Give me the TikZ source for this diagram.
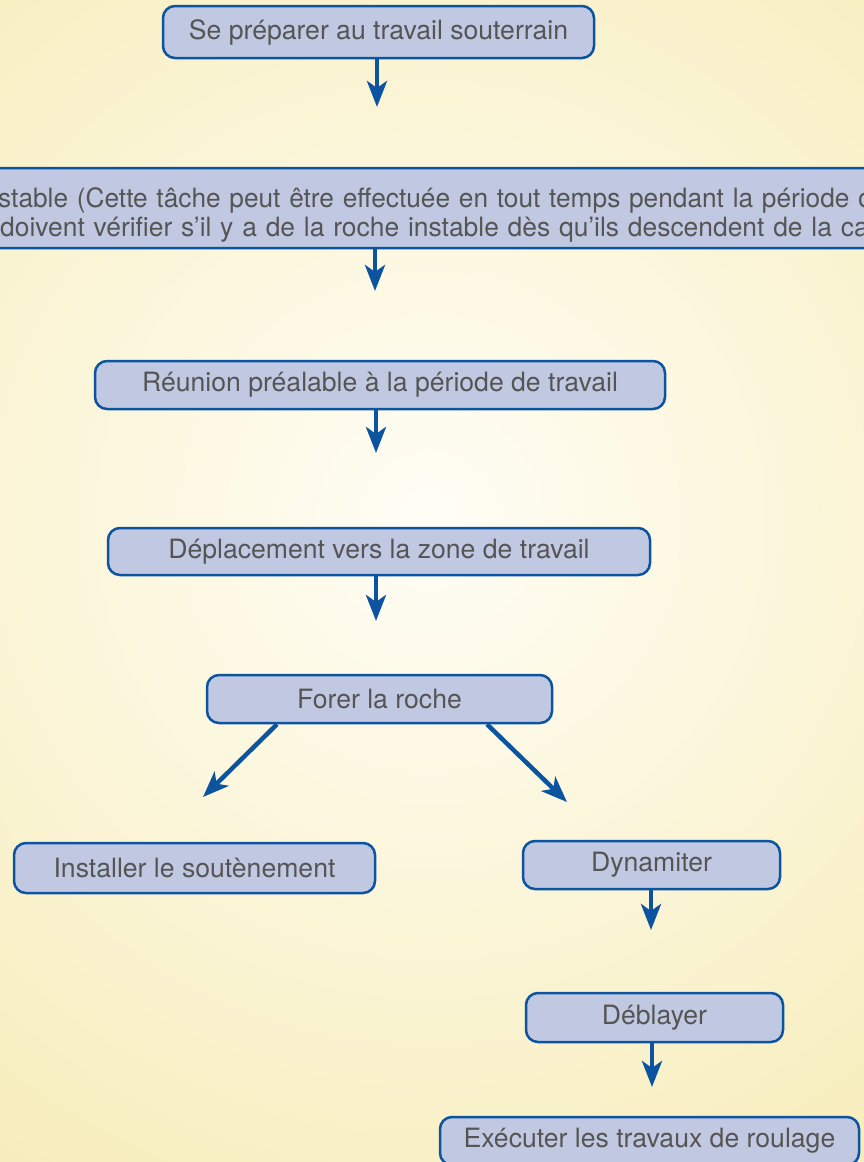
\documentclass[tikz,border=0pt]{standalone}
\usepackage{fontspec}
\setmainfont{TeX Gyre Heros}
\usetikzlibrary{arrows.meta}
\definecolor{bblue}{RGB}{12,84,160}
\definecolor{bfill}{RGB}{193,201,226}
\definecolor{tgray}{RGB}{85,85,85}
\definecolor{bgin}{RGB}{255,254,246}
\definecolor{bgout}{RGB}{245,232,170}
\begin{document}
\begin{tikzpicture}[x=1pt,y=-1pt,
  box/.style={draw=bblue, fill=bfill, line width=2.5pt, rounded corners=12pt,
    text=tgray, inner sep=0pt, font=\fontsize{26.6}{29}\selectfont},
  arr/.style={draw=bblue, line width=4.5pt,
    -{Stealth[length=26pt,width=20pt,inset=7pt]}}]
\useasboundingbox (0,0) rectangle (864,1162);
\clip (0,0) rectangle (864,1162);
\shade[inner color=bgin, outer color=bgout] (430,520) circle (1000pt);

\node[box, minimum width=431pt, minimum height=52pt] (n1) at (378.5,32) {Se préparer au travail souterrain};
\node[box, anchor=west, minimum width=920pt, minimum height=80pt, text width=920pt, align=left] (n2) at (-25,208)
  {\rule{0pt}{33pt}\hspace*{22pt}\scalebox{0.987}[1]{\mbox{stable (Cette tâche peut être effectuée en tout temps pendant la période de}}\\
   \hspace*{24pt}\scalebox{0.993}[1]{\mbox{doivent vérifier s’il y a de la roche instable dès qu’ils descendent de la cage}}};
\node[box, minimum width=570pt, minimum height=48pt] (n3) at (380,385) {Réunion préalable à la période de travail};
\node[box, minimum width=542pt, minimum height=47pt] (n4) at (379,551.5) {Déplacement vers la zone de travail};
\node[box, minimum width=345pt, minimum height=48pt] (n5) at (379.5,699) {Forer la roche};
\node[box, minimum width=361pt, minimum height=50pt] (n6) at (194.5,868) {Installer le soutènement};
\node[box, minimum width=257pt, minimum height=48pt] (n7) at (651.5,865) {Dynamiter};
\node[box, minimum width=257pt, minimum height=49pt] (n8) at (654.5,1017.5) {Déblayer};
\node[box, minimum width=419pt, minimum height=48pt] (n9) at (649.5,1141) {Exécuter les travaux de roulage};

\coordinate (t1) at (377,107);
\coordinate (t2) at (375,291);
\coordinate (t3) at (376,453);
\coordinate (t4) at (376,621);
\coordinate (t5) at (203,797);
\coordinate (t6) at (567,802);
\coordinate (t7) at (651,930);
\coordinate (t8) at (652,1087);
\coordinate (s5) at ([xshift=-102.5pt]n5.south);
\coordinate (s6) at ([xshift=107.5pt]n5.south);

\draw[arr] (n1.south -| t1) -- (t1);
\draw[arr] (n2.south -| t2) -- (t2);
\draw[arr] (n3.south -| t3) -- (t3);
\draw[arr] (n4.south -| t4) -- (t4);
\draw[arr] (s5) -- (t5);
\draw[arr] (s6) -- (t6);
\draw[arr] (n7.south -| t7) -- (t7);
\draw[arr] (n8.south -| t8) -- (t8);
\end{tikzpicture}
\end{document}
